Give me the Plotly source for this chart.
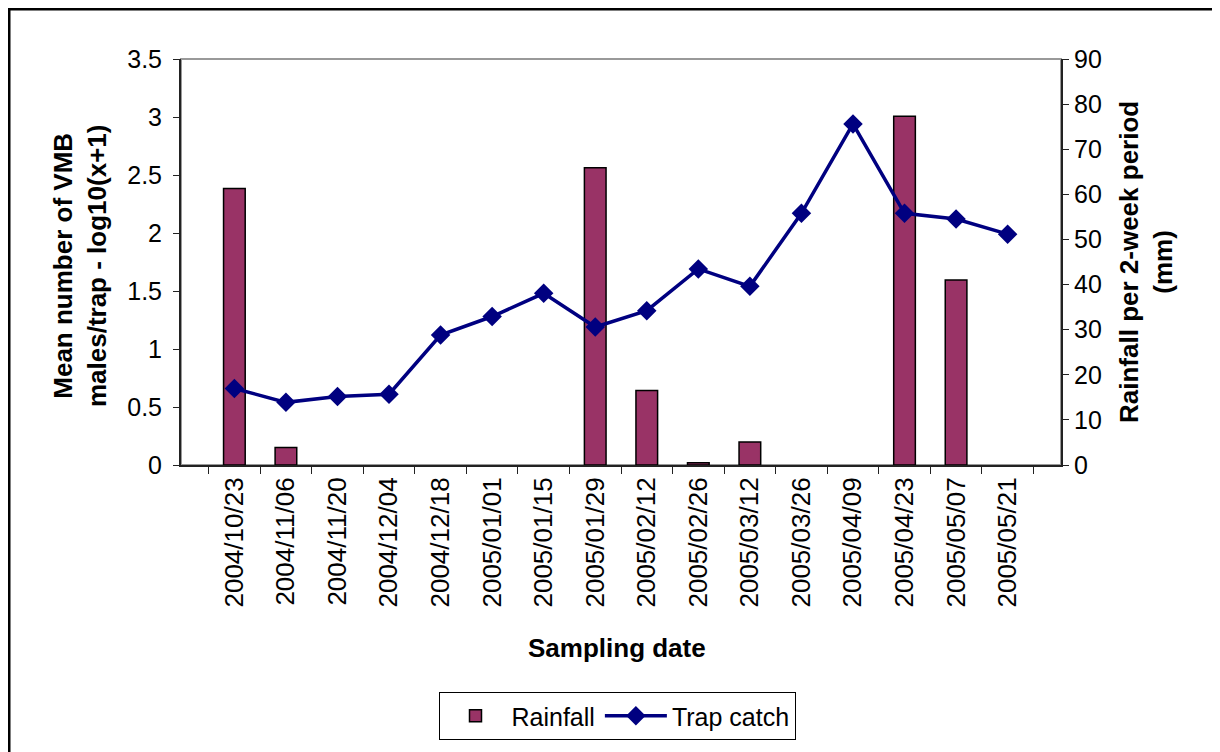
import plotly.graph_objects as go

# Data
dates = ['2004/10/23', '2004/11/06', '2004/11/20', '2004/12/04', '2004/12/18',
         '2005/01/01', '2005/01/15', '2005/01/29', '2005/02/12', '2005/02/26',
         '2005/03/12', '2005/03/26', '2005/04/09', '2005/04/23', '2005/05/07',
         '2005/05/21']
rainfall = [61.3, 3.9, 0, 0, 0, 0, 0, 65.9, 16.5, 0.5, 5.1, 0, 0, 77.3, 41.0, 0]  # mm
trap_catch = [0.66, 0.54, 0.59, 0.61, 1.12, 1.28, 1.48, 1.19, 1.33, 1.69,
              1.54, 2.17, 2.94, 2.17, 2.12, 1.99]  # log10(x+1)

left_ticks = [0, 0.5, 1, 1.5, 2, 2.5, 3, 3.5]
right_ticks = [0, 10, 20, 30, 40, 50, 60, 70, 80, 90]

font = 'Liberation Sans, Arial, sans-serif'

# page has an 8px body margin, so the figure is a bit smaller than the window
W, H = 1212, 744
L, R, T, B = 173, 159, 51, 287
pw, ph = W - L - R, H - T - B

fig = go.Figure()

# bars on the primary (right-side) axis so the line is drawn above them
fig.add_trace(go.Bar(x=dates, y=rainfall, name='Rainfall', width=0.42,
                     marker=dict(color='#993366',
                                 line=dict(color='black',
                                           width=[1.5 if v > 0 else 0 for v in rainfall]))))
fig.add_trace(go.Scatter(x=dates, y=trap_catch, name='Trap catch', yaxis='y2',
                         mode='lines+markers',
                         line=dict(color='#000080', width=3.5),
                         marker=dict(symbol='diamond', size=15, color='#000080')))

axis_common = dict(ticks='outside', ticklen=6, tickcolor='#222222',
                   showline=True, linecolor='#222222', linewidth=2,
                   showgrid=False, zeroline=False, tickfont=dict(size=25))

fig.update_layout(
    width=W, height=H,
    margin=dict(l=L, r=R, t=T, b=B),
    paper_bgcolor='white', plot_bgcolor='white',
    font=dict(family=font, size=24, color='black'),
    showlegend=True,
    legend=dict(orientation='h', x=(617 - 181) / pw, xanchor='center',
                y=(465 - 716) / ph, yanchor='middle', itemwidth=62,
                bordercolor='black', borderwidth=1, font=dict(size=25),
                traceorder='normal'),
    xaxis=dict(type='category', tickangle=-90, tickson='boundaries',
               ticks='outside', ticklen=7, tickcolor='#222222',
               showline=True, linecolor='#222222', linewidth=2,
               tickfont=dict(size=26), showgrid=False),
    yaxis=dict(side='right', range=[0, 90], tickvals=right_ticks, **axis_common),
    yaxis2=dict(side='left', overlaying='y', range=[0, 3.5], tickvals=left_ticks,
                ticktext=[f'{v:g}' for v in left_ticks], ticklabelstandoff=6,
                **axis_common),
)

# plot area border (gray) and outer frame
fig.add_shape(type='rect', xref='paper', yref='paper', x0=0, x1=1, y0=0, y1=1,
              line=dict(color='#999999', width=2), layer='below')
fig.add_shape(type='rect', xref='paper', yref='paper',
              x0=-(L - 1) / pw, x1=1.3, y0=-1.0, y1=1 + (T - 1) / ph,
              line=dict(color='black', width=3))

# axis titles
fig.add_annotation(text='<b>Mean number of VMB<br>males/trap - log10(x+1)</b>',
                   xref='paper', yref='paper', x=(80 - 181) / pw, y=0.49,
                   xanchor='center', yanchor='middle',
                   textangle=-90, showarrow=False, font=dict(size=26))
fig.add_annotation(text='<b>Rainfall per 2-week period<br>(mm)</b>',
                   xref='paper', yref='paper', x=(1146 - 181) / pw, y=0.5,
                   xanchor='center', yanchor='middle',
                   textangle=-90, showarrow=False, font=dict(size=26))
fig.add_annotation(text='<b>Sampling date</b>',
                   xref='paper', yref='paper', x=(617 - 181) / pw, y=(465 - 648) / ph,
                   xanchor='center', yanchor='middle',
                   showarrow=False, font=dict(size=26))

fig.write_html("out.html")
